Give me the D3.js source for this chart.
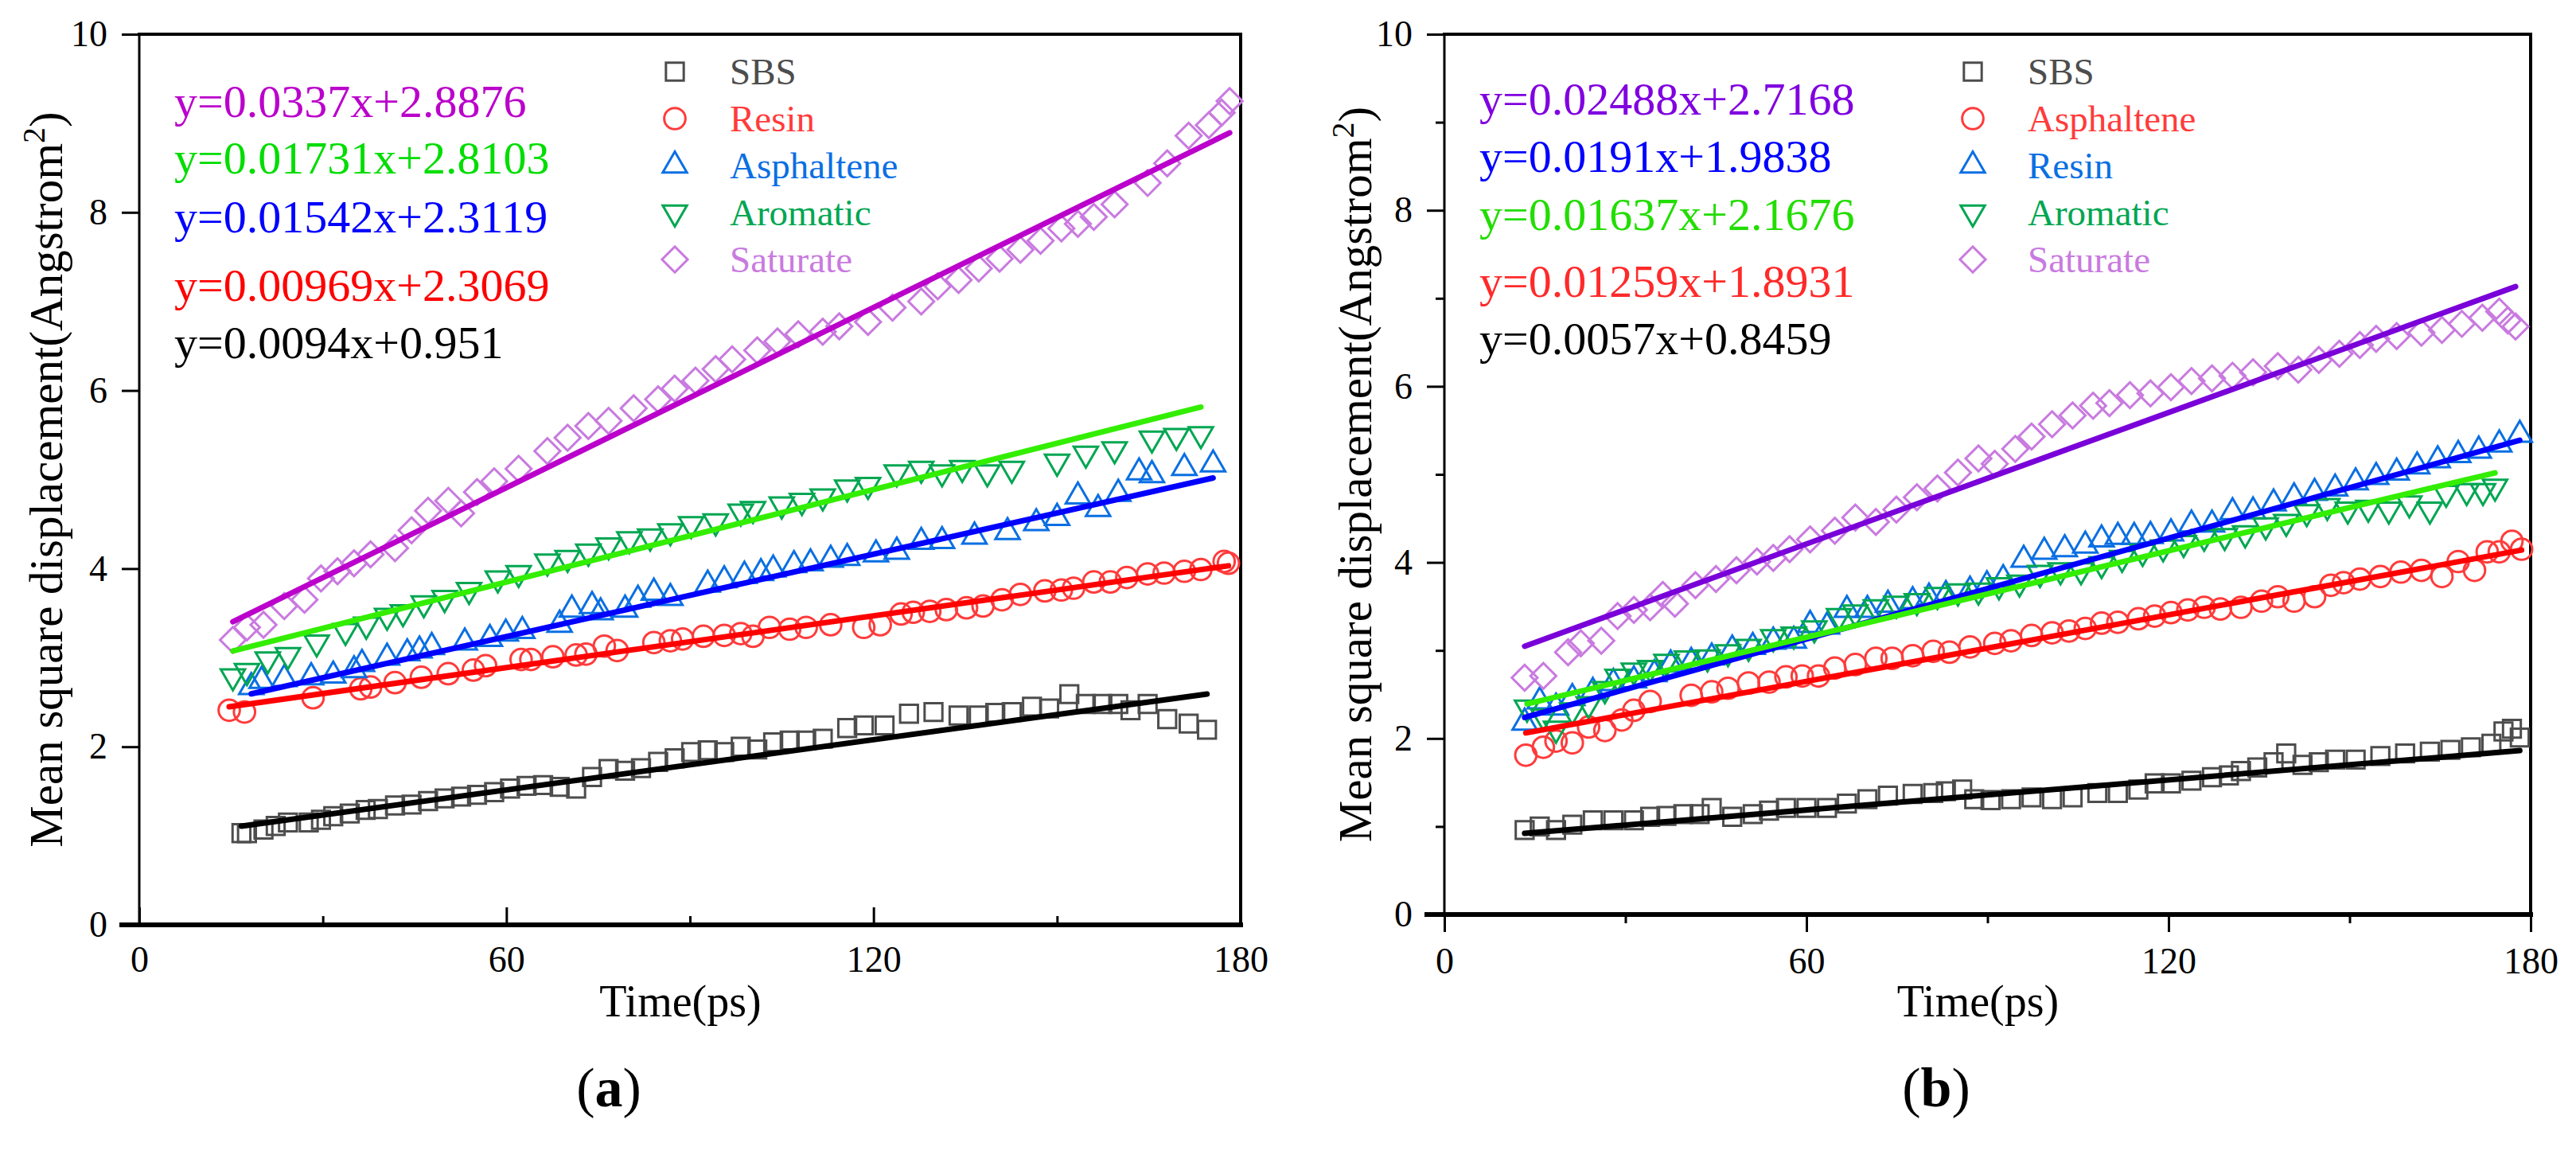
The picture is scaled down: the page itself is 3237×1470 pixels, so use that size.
<!DOCTYPE html>
<html>
<head>
<meta charset="utf-8">
<script src="https://cdn.jsdelivr.net/npm/d3@7"></script>
<style>
  body { margin: 0; background: #fff; }
  text { font-family: "Liberation Serif", "Times New Roman", serif; }
</style>
</head>
<body>
<div id="wrapper"></div>
<script>
// ---- Data: [time (ps), mean square displacement] ----

// panel (a)
const sbsA = [[16.7,1.03],[17.6,1.03],[20.3,1.07],[22.3,1.11],[24.3,1.15],[27.7,1.15],[29.7,1.18],[31.7,1.22],[34.4,1.25],[37,1.29],[39,1.30],[41.8,1.34],[44.5,1.35],[47.2,1.39],[49.9,1.42],[52.6,1.44],[55.2,1.46],[58,1.49],[60.6,1.53],[63.3,1.56],[66,1.57],[68.7,1.55],[71.4,1.53],[74,1.66],[76.7,1.75],[79.4,1.73],[82,1.76],[84.8,1.83],[87.5,1.87],[90.2,1.94],[92.9,1.96],[95.6,1.94],[98.3,2.0],[101,1.97],[103.6,2.05],[106.3,2.07],[109,2.07],[111.7,2.09],[115.7,2.21],[118.4,2.24],[121.8,2.24],[125.8,2.37],[129.8,2.39],[133.9,2.35],[137.2,2.35],[139.9,2.38],[142.6,2.39],[145.9,2.45],[148.7,2.43],[152,2.59],[154.7,2.48],[157.4,2.48],[160,2.48],[162,2.41],[164.8,2.48],[168,2.31],[171.5,2.26],[174.5,2.19]];
const resinA = [[14.7,2.41],[17.2,2.39],[28.4,2.55],[36.2,2.65],[37.8,2.67],[41.8,2.72],[46.1,2.78],[50.5,2.82],[54.6,2.86],[56.6,2.91],[62.4,2.98],[64,2.98],[67.6,3.01],[71.4,3.03],[73,3.04],[76,3.13],[78.1,3.08],[84.1,3.17],[86.8,3.19],[88.8,3.21],[92.2,3.24],[95.6,3.25],[98.3,3.27],[100.3,3.24],[103,3.34],[106.3,3.32],[109,3.34],[113,3.37],[118.4,3.34],[121.1,3.37],[124.5,3.49],[126.5,3.51],[129.2,3.52],[131.9,3.54],[135.2,3.56],[137.9,3.58],[141,3.65],[144,3.71],[148,3.75],[150.7,3.76],[152.7,3.78],[156,3.85],[158.7,3.85],[161.4,3.90],[164.8,3.94],[167.5,3.95],[170.8,3.97],[173.5,3.99],[177.3,4.08],[178,4.06]];
const asphalteneA = [[18.3,2.67],[20,2.74],[23.7,2.76],[28.1,2.78],[31.7,2.80],[35.1,2.86],[36.4,2.93],[40.5,3.00],[43.8,3.05],[45.8,3.08],[47.8,3.12],[53.2,3.17],[57.3,3.21],[59.9,3.27],[62.6,3.30],[68.7,3.37],[70.7,3.54],[74,3.58],[75.4,3.51],[79.4,3.54],[81.5,3.65],[84.1,3.73],[86.8,3.67],[92.9,3.82],[95.6,3.87],[98.9,3.92],[101.6,3.95],[103.6,3.99],[107,4.04],[109.7,4.06],[113,4.10],[115.7,4.12],[120.4,4.16],[123.8,4.19],[127.8,4.30],[131.2,4.31],[136.5,4.36],[141.9,4.41],[146.6,4.51],[150,4.57],[153.4,4.81],[156.7,4.67],[160,4.84],[163.4,5.08],[165.5,5.05],[170.8,5.13],[175.5,5.17]];
const aromaticA = [[15.3,2.79],[17.6,2.85],[21,2.98],[24.3,3.03],[29,3.17],[33.7,3.30],[37.1,3.37],[40.5,3.47],[43.1,3.51],[46.5,3.61],[49.9,3.67],[53.9,3.76],[58.6,3.89],[62,3.95],[66.7,4.08],[70,4.12],[73.4,4.19],[76.7,4.26],[80.1,4.33],[83.5,4.36],[86.8,4.42],[90.2,4.50],[94.2,4.53],[98.3,4.64],[100.3,4.67],[105,4.72],[108.3,4.76],[111.7,4.81],[115.7,4.91],[119.1,4.94],[123.8,5.08],[127.8,5.12],[131.2,5.08],[134.5,5.13],[138.6,5.08],[142.6,5.12],[150,5.20],[154.7,5.29],[159.4,5.34],[165.5,5.46],[169.5,5.49],[173.5,5.51]];
const saturateA = [[15.3,3.20],[17.6,3.34],[20.3,3.37],[23.7,3.58],[27,3.65],[29.7,3.89],[32.4,3.97],[35.1,4.06],[37.8,4.16],[41.8,4.23],[44.5,4.43],[47.2,4.65],[50.5,4.76],[52.6,4.62],[55.2,4.86],[58,4.98],[62,5.12],[66.7,5.32],[70,5.47],[73.4,5.60],[76.7,5.66],[80.8,5.80],[84.8,5.90],[87.5,6.02],[90.9,6.11],[94.2,6.24],[96.9,6.35],[101,6.45],[104.3,6.55],[107.7,6.63],[111.7,6.66],[114.4,6.72],[119.1,6.77],[123.1,6.93],[127.8,7.00],[130.5,7.17],[133.9,7.24],[137.2,7.37],[140.6,7.48],[144,7.58],[147.3,7.68],[150.7,7.82],[153.4,7.87],[156,7.95],[159.4,8.09],[164.8,8.33],[168,8.55],[171.5,8.86],[174.8,8.98],[176.9,9.12],[178.2,9.25]];

// panel (b)
const sbsB = [[13.3,0.96],[15.8,1.00],[18.5,0.96],[21.2,1.02],[24.6,1.07],[28,1.07],[31.4,1.07],[34.1,1.11],[36.8,1.12],[39.6,1.14],[42.3,1.14],[44.3,1.21],[47.7,1.11],[51.1,1.14],[53.8,1.18],[56.6,1.21],[60,1.21],[63.4,1.21],[66.7,1.26],[70.1,1.31],[73.5,1.35],[77.6,1.37],[81,1.38],[83.1,1.40],[85.8,1.42],[87.8,1.31],[90.5,1.30],[93.9,1.31],[97.3,1.33],[100.7,1.31],[104.1,1.33],[108.2,1.38],[111.6,1.38],[115,1.42],[117.7,1.49],[120.4,1.49],[123.8,1.52],[127.2,1.56],[130,1.58],[132,1.63],[134.7,1.67],[137.4,1.73],[139.5,1.83],[142.2,1.70],[144.9,1.73],[147.6,1.76],[151,1.76],[155.1,1.80],[159.2,1.83],[163.3,1.85],[166.7,1.87],[170.1,1.90],[173.5,1.94],[175.5,2.08],[176.9,2.11],[178.2,2.01]];
const asphalteneB = [[13.5,1.81],[16.4,1.90],[18.5,1.97],[21.2,1.95],[23.9,2.13],[26.6,2.09],[29.4,2.21],[31.4,2.32],[34.1,2.42],[40.9,2.49],[44.3,2.53],[47,2.57],[50.4,2.63],[53.8,2.64],[56.6,2.70],[59.3,2.71],[62,2.71],[64.7,2.80],[68.1,2.84],[71.5,2.91],[74.2,2.91],[77.6,2.94],[81,2.99],[83.7,2.98],[87.1,3.04],[91.2,3.08],[93.9,3.11],[97.3,3.17],[100.7,3.20],[103.5,3.22],[106.2,3.25],[108.9,3.31],[111.6,3.32],[115,3.36],[117.7,3.39],[120.4,3.43],[123.2,3.46],[125.9,3.49],[128.6,3.47],[132,3.49],[135.4,3.56],[138.1,3.61],[140.8,3.56],[144.2,3.61],[146.9,3.74],[149,3.77],[151.7,3.81],[155.1,3.84],[158.5,3.89],[161.9,3.91],[165.3,3.84],[168,4.01],[170.7,3.91],[172.8,4.12],[174.8,4.12],[176.9,4.24],[178.5,4.15]];
const resinB = [[13.3,2.18],[15.8,2.42],[18.5,2.35],[21.2,2.46],[24.6,2.53],[28,2.63],[31.4,2.66],[34.8,2.73],[37.5,2.84],[40.9,2.87],[44.3,2.92],[47.7,3.01],[51.1,3.04],[54.5,3.10],[57.9,3.11],[60.6,3.29],[63.4,3.27],[66.7,3.46],[70.1,3.46],[73.5,3.52],[77.6,3.56],[80.3,3.60],[83.1,3.63],[87.1,3.68],[89.9,3.74],[92.6,3.81],[96,4.03],[99.4,4.12],[102.8,4.15],[106.2,4.19],[108.9,4.26],[111.6,4.29],[114.3,4.29],[117,4.30],[120.4,4.33],[123.8,4.43],[127.2,4.43],[130.6,4.57],[134,4.58],[137.4,4.67],[140.8,4.74],[144.2,4.79],[147.6,4.84],[151,4.91],[154.4,4.97],[157.8,5.02],[161.2,5.09],[164.6,5.16],[168,5.22],[171.4,5.27],[174.8,5.34],[178.2,5.45]];
const aromaticB = [[13.7,2.35],[16.4,2.25],[18.5,2.11],[21.2,2.32],[23.9,2.39],[26.6,2.56],[28.7,2.70],[31.4,2.77],[34.1,2.80],[36.8,2.87],[40.2,2.91],[43.6,2.92],[47,2.98],[50.4,3.04],[54.5,3.15],[57.9,3.18],[61.3,3.25],[65.4,3.39],[68.1,3.43],[71.5,3.49],[74.9,3.53],[78.3,3.56],[81.7,3.63],[85.1,3.67],[88.5,3.68],[91.9,3.74],[95.3,3.77],[98.7,3.88],[102.1,3.91],[105.5,3.91],[108.9,3.98],[112.3,4.05],[115.7,4.12],[119.1,4.17],[122.5,4.22],[125.9,4.29],[129.3,4.30],[132.7,4.33],[136.1,4.42],[139.5,4.46],[142.9,4.57],[146.3,4.64],[149.7,4.60],[153.1,4.62],[156.5,4.60],[159.9,4.67],[163.3,4.60],[166,4.79],[169.4,4.81],[172.1,4.81],[174.1,4.86]];
const saturateB = [[13.3,2.69],[16.4,2.71],[20.5,2.98],[22.6,3.08],[26,3.11],[28.7,3.39],[31.4,3.46],[34.1,3.49],[36.2,3.63],[38.2,3.53],[41.6,3.74],[45,3.81],[48.4,3.91],[51.8,4.01],[54.5,4.05],[57.2,4.15],[60.6,4.26],[64.7,4.36],[68.1,4.51],[71.5,4.46],[74.9,4.60],[78.3,4.74],[81.7,4.84],[85.1,5.02],[88.5,5.18],[91.2,5.12],[94.6,5.29],[97.3,5.43],[100.7,5.57],[104.1,5.67],[107.5,5.78],[110.2,5.81],[113.6,5.90],[117,5.92],[120.4,5.99],[123.8,6.06],[127.2,6.09],[130.6,6.12],[134,6.16],[138.1,6.23],[141.5,6.19],[144.9,6.30],[148.3,6.37],[151.7,6.47],[154.4,6.54],[157.8,6.57],[161.9,6.61],[165.3,6.64],[168.6,6.71],[172,6.78],[174.8,6.85],[176.2,6.75],[177.5,6.68]];

// legend labels and linear fits (legend order)
const labelsA = ['SBS', 'Resin', 'Asphaltene', 'Aromatic', 'Saturate'];
const slopesA = [0.0094, 0.00969, 0.01542, 0.01731, 0.0337];
const interceptsA = [0.951, 2.3069, 2.3119, 2.8103, 2.8876];
const eqOrderA = [4, 3, 2, 1, 0];

const labelsB = ['SBS', 'Asphaltene', 'Resin', 'Aromatic', 'Saturate'];
const slopesB = [0.0057, 0.01259, 0.0191, 0.01637, 0.02488];
const interceptsB = [0.8459, 1.8931, 1.9838, 2.1676, 2.7168];
const eqOrderB = [4, 2, 3, 1, 0];

const xTicks = [0, 60, 120, 180];
const xMinorTicks = [30, 90, 150];
const yTicks = [0, 2, 4, 6, 8, 10];
const yMinorTicks = [1, 3, 5, 7, 9];

// ---- Styles ----
const markerColors = ['#4d4d4d', '#ff3b3b', '#0a6fe3', '#00a651', '#c97ae0'];
const symbolTypes = ['square', 'circle', 'up', 'down', 'diamond'];
const font = '"Liberation Serif", "Times New Roman", serif';

const width = 3237;
const height = 1470;

const svg = d3
  .select('#wrapper')
  .append('svg')
  .attr('width', width)
  .attr('height', height)
  .style('display', 'block')
  .style('font-family', font);

svg.append('rect').attr('width', width).attr('height', height).attr('fill', '#fff');

function symbolPath(type) {
  if (type === 'circle') return d3.symbol(d3.symbolCircle, 560)();
  if (type === 'square') return d3.symbol(d3.symbolSquare, 500)();
  if (type === 'diamond') return d3.symbol(d3.symbolSquare, 520)();
  return d3.symbol(d3.symbolTriangle, 400)();
}
function symbolRotate(type) {
  if (type === 'diamond') return 45;
  if (type === 'down') return 180;
  return 0;
}

function drawPanel(p) {
  const xScale = d3.scaleLinear().domain([0, 180]).range([p.left, p.right]);
  const yScale = d3.scaleLinear().domain([0, 10]).range([p.bottom, p.top]);
  const g = svg.append('g');

  // axes
  const xAxis = d3
    .axisBottom(xScale)
    .tickValues(xTicks)
    .tickSizeInner(p.xTickDir * 22)
    .tickSizeOuter(0)
    .tickPadding(p.xPad);
  g.append('g')
    .attr('transform', `translate(0, ${p.bottom})`)
    .call(xAxis);

  const xMinor = d3
    .axisBottom(xScale)
    .tickValues(xMinorTicks)
    .tickSizeInner(p.xTickDir * 11)
    .tickSizeOuter(0)
    .tickFormat('');
  g.append('g').attr('transform', `translate(0, ${p.bottom})`).call(xMinor);

  const yAxis = d3
    .axisLeft(yScale)
    .tickValues(yTicks)
    .tickSizeInner(22)
    .tickSizeOuter(0)
    .tickPadding(18);
  g.append('g')
    .attr('transform', `translate(${p.left}, 0)`)
    .call(yAxis);

  if (p.yMinor) {
    const yMinor = d3
      .axisLeft(yScale)
      .tickValues(yMinorTicks)
      .tickSizeInner(11)
      .tickSizeOuter(0)
      .tickFormat('');
    g.append('g').attr('transform', `translate(${p.left}, 0)`).call(yMinor);
  }

  g.selectAll('.domain').remove();
  g.selectAll('.tick line').attr('stroke', '#000').attr('stroke-width', 3);
  g.selectAll('.tick text')
    .attr('fill', '#000')
    .attr('font-family', null)
    .style('font-family', font)
    .style('font-size', '46px');

  // frame
  const frame = g.append('g').attr('stroke', '#000').attr('stroke-linecap', 'square');
  frame.append('line').attr('x1', p.left).attr('x2', p.right).attr('y1', p.top).attr('y2', p.top).attr('stroke-width', 4);
  frame.append('line').attr('x1', p.right).attr('x2', p.right).attr('y1', p.top).attr('y2', p.bottom).attr('stroke-width', 4);
  frame.append('line').attr('x1', p.left).attr('x2', p.left).attr('y1', p.top).attr('y2', p.bottom).attr('stroke-width', 3);
  frame.append('line').attr('x1', p.left - 22).attr('x2', p.right).attr('y1', p.bottom).attr('y2', p.bottom).attr('stroke-width', 6);

  // markers
  p.series.forEach((data, i) => {
    g.append('g')
      .selectAll('path')
      .data(data)
      .join('path')
      .attr('d', symbolPath(symbolTypes[i]))
      .attr('transform', (d) => `translate(${xScale(d[0])}, ${yScale(d[1])}) rotate(${symbolRotate(symbolTypes[i])})`)
      .attr('fill', 'none')
      .attr('stroke', markerColors[i])
      .attr('stroke-width', 3);
  });

  // fitted lines
  const lineGenerator = d3
    .line()
    .x((d) => xScale(d[0]))
    .y((d) => yScale(d[1]));
  p.series.forEach((data, i) => {
    const [x0, x1] = d3.extent(data, (d) => d[0]);
    const pts = [x0, x1].map((x) => [x, p.slopes[i] * x + p.intercepts[i]]);
    g.append('path')
      .attr('d', lineGenerator(pts))
      .attr('fill', 'none')
      .attr('stroke', p.lineColors[i])
      .attr('stroke-width', 7)
      .attr('stroke-linecap', 'round');
  });

  // equations
  p.eqOrder.forEach((idx, k) => {
    g.append('text')
      .attr('x', p.left + 44)
      .attr('y', p.eqBaselines[k])
      .attr('fill', p.eqColors[idx])
      .style('font-family', font)
      .style('font-size', '58px')
      .text(`y=${p.slopes[idx]}x+${p.intercepts[idx]}`);
  });

  // legend
  p.labels.forEach((label, i) => {
    const by = 106 + i * 59;
    g.append('path')
      .attr('d', symbolPath(symbolTypes[i]))
      .attr('transform', `translate(${p.left + p.legendDx}, ${by - 16}) rotate(${symbolRotate(symbolTypes[i])})`)
      .attr('fill', 'none')
      .attr('stroke', markerColors[i])
      .attr('stroke-width', 3);
    g.append('text')
      .attr('x', p.left + p.legendDx + 69)
      .attr('y', by)
      .attr('fill', markerColors[i])
      .style('font-family', font)
      .style('font-size', '47px')
      .text(label);
  });

  // axis titles
  g.append('text')
    .attr('x', (p.left + p.right) / 2 - 12)
    .attr('y', 1277)
    .attr('text-anchor', 'middle')
    .style('font-family', font)
    .style('font-size', '56px')
    .text('Time(ps)');

  const yLabel = g
    .append('text')
    .attr('transform', `translate(${p.yLabelX}, ${(p.top + p.bottom) / 2}) rotate(-90)`)
    .attr('text-anchor', 'middle')
    .style('font-family', font)
    .style('font-size', '59px');
  yLabel.append('tspan').text('Mean square displacement(Angstrom');
  yLabel.append('tspan').attr('dy', -22).style('font-size', '40px').text('2');
  yLabel.append('tspan').attr('dy', 22).text(')');

  // panel tag
  const tag = g
    .append('text')
    .attr('x', p.tagX)
    .attr('y', 1390)
    .attr('text-anchor', 'middle')
    .style('font-family', font)
    .style('font-size', '70px');
  tag.append('tspan').text('(');
  tag.append('tspan').style('font-weight', 'bold').text(p.tag);
  tag.append('tspan').text(')');
}

drawPanel({
  left: 175, right: 1559, top: 43, bottom: 1162,
  xTickDir: -1, xPad: 26, yMinor: false,
  series: [sbsA, resinA, asphalteneA, aromaticA, saturateA],
  labels: labelsA, slopes: slopesA, intercepts: interceptsA, eqOrder: eqOrderA,
  lineColors: ['#000000', '#ff0000', '#0000ff', '#33ee00', '#bb00cc'],
  eqColors: ['#000000', '#ff0000', '#0000ff', '#00dd00', '#bb00cc'],
  eqBaselines: [147, 218, 292, 378, 450],
  legendDx: 673, yLabelX: 78, tagX: 765, tag: 'a',
});

drawPanel({
  left: 1815, right: 3180, top: 43, bottom: 1149,
  xTickDir: 1, xPad: 19, yMinor: true,
  series: [sbsB, asphalteneB, resinB, aromaticB, saturateB],
  labels: labelsB, slopes: slopesB, intercepts: interceptsB, eqOrder: eqOrderB,
  lineColors: ['#000000', '#ff0000', '#0000ff', '#33ee00', '#7a00d9'],
  eqColors: ['#000000', '#ff2a2a', '#0000ff', '#22dd00', '#8000e0'],
  eqBaselines: [144, 216, 289, 373, 445],
  legendDx: 664, yLabelX: 1723, tagX: 2433, tag: 'b',
});
</script>
</body>
</html>
